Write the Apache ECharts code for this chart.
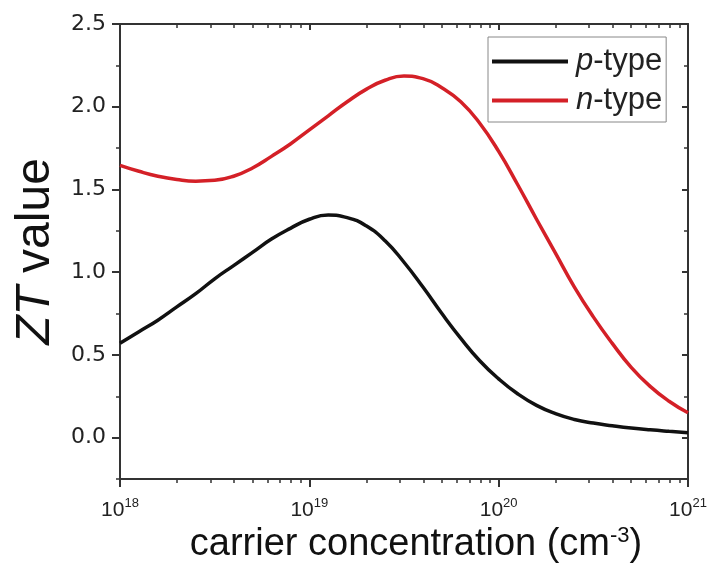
<!DOCTYPE html>
<html><head><meta charset="utf-8">
<script src="https://cdn.jsdelivr.net/npm/echarts@6/dist/echarts.min.js"></script>
<style>html,body{margin:0;padding:0;background:#fff}#c{width:712px;height:572px}</style>
</head><body><div id="c"></div>
<script>
// x values: log10 of carrier concentration (cm^-3)
const logN = [18.0,18.1,18.2,18.3,18.4,18.5,18.6,18.7,18.8,18.9,19.0,19.1,19.2,19.3,19.4,19.5,19.6,19.7,19.8,19.9,20.0,20.1,20.2,20.3,20.4,20.5,20.6,20.7,20.8,20.9,21.0];
const pType = [0.57,0.64,0.71,0.79,0.87,0.96,1.04,1.12,1.20,1.265,1.32,1.345,1.33,1.28,1.19,1.06,0.91,0.75,0.60,0.465,0.355,0.265,0.195,0.145,0.11,0.088,0.072,0.058,0.047,0.038,0.03];
const nType = [1.646,1.61,1.58,1.56,1.55,1.555,1.58,1.63,1.70,1.775,1.86,1.945,2.03,2.105,2.16,2.185,2.17,2.115,2.03,1.90,1.73,1.53,1.32,1.115,0.91,0.73,0.57,0.425,0.31,0.22,0.15];
const seriesNames = ['p-type','n-type'];
const yMajorTicks = [0,0.5,1.0,1.5,2.0,2.5];
const yMinorTicks = [-0.25,0.25,0.75,1.25,1.75,2.25];
const xMinorTicks = [];
[18,19,20].forEach(d => { for (let m = 2; m <= 9; m++) xMinorTicks.push(d + Math.log10(m)); });

const AX = '#333';
const FONT = '"Liberation Sans", Arial, sans-serif';

const chart = echarts.init(document.getElementById('c'), null, {renderer:'canvas'});
const baseX = {type:'value', min:18, max:21, gridIndex:0, splitLine:{show:false}};
const baseY = {type:'value', min:-0.25, max:2.5, gridIndex:0, splitLine:{show:false}};
const option = {
  backgroundColor:'#fff',
  animation:false,
  grid:{left:120, right:24, top:24, bottom:93, containLabel:false},
  legend:{
    orient:'vertical', left:488, top:37,
    padding:[9,4,6,4], itemGap:8,
    borderColor:'#888', borderWidth:1,
    itemWidth:76, itemHeight:4, icon:'rect',
    data:seriesNames,
    formatter: name => '{i|' + name.charAt(0) + '}-type',
    textStyle:{fontSize:31, fontFamily:FONT, color:'#222',
      rich:{i:{fontStyle:'italic', fontSize:31, fontFamily:FONT, color:'#222', padding:[0,0,0,3]}}}
  },
  xAxis:[
    Object.assign({}, baseX, {
      position:'bottom', interval:1,
      axisLine:{show:true, onZero:false, lineStyle:{color:AX, width:2}},
      axisTick:{show:true, inside:false, length:8, lineStyle:{color:AX, width:2}},
      axisLabel:{show:true, margin:18, color:'#222', fontFamily:FONT, fontSize:21,
        formatter: v => '{b|10}{s|' + v + '}',
        rich:{b:{fontSize:21, fontFamily:FONT, color:'#222', lineHeight:26},
              s:{fontSize:13, fontFamily:FONT, color:'#222', verticalAlign:'top', lineHeight:14}}},
      name:'carrier concentration (cm{sup|-3})', nameLocation:'middle', nameGap:46,
      nameTextStyle:{fontSize:38, fontFamily:FONT, color:'#111', padding:[0,0,0,24],
        rich:{sup:{fontSize:22, fontFamily:FONT, color:'#111', verticalAlign:'top', lineHeight:22}}}
    }),
    Object.assign({}, baseX, {
      position:'bottom',
      axisLine:{show:false, onZero:false},
      axisTick:{show:true, inside:false, length:4, customValues:xMinorTicks, lineStyle:{color:AX, width:1.5}},
      axisLabel:{show:false}
    }),
    Object.assign({}, baseX, {
      position:'top', interval:1,
      axisLine:{show:true, onZero:false, lineStyle:{color:AX, width:2}},
      axisTick:{show:true, inside:true, length:6, lineStyle:{color:AX, width:2}},
      axisLabel:{show:false}
    }),
    Object.assign({}, baseX, {
      position:'top',
      axisLine:{show:false, onZero:false},
      axisTick:{show:true, inside:true, length:4, customValues:xMinorTicks, lineStyle:{color:AX, width:1.5}},
      axisLabel:{show:false}
    })
  ],
  yAxis:[
    Object.assign({}, baseY, {
      position:'left',
      axisLine:{show:true, onZero:false, lineStyle:{color:AX, width:2}},
      axisTick:{show:true, inside:false, length:8, customValues:yMajorTicks, lineStyle:{color:AX, width:2}},
      axisLabel:{show:true, margin:14, customValues:yMajorTicks, color:'#222', fontSize:22,
        fontFamily:'"DejaVu Sans", sans-serif', formatter: v => v.toFixed(1)},
      name:'{i|ZT} value', nameLocation:'middle', nameGap:56,
      nameTextStyle:{fontSize:48, fontFamily:FONT, color:'#111',
        rich:{i:{fontStyle:'italic', fontSize:48, fontFamily:FONT, color:'#111'}}}
    }),
    Object.assign({}, baseY, {
      position:'left',
      axisLine:{show:false, onZero:false},
      axisTick:{show:true, inside:false, length:4, customValues:yMinorTicks, lineStyle:{color:AX, width:1.5}},
      axisLabel:{show:false}
    }),
    Object.assign({}, baseY, {
      position:'right',
      axisLine:{show:true, onZero:false, lineStyle:{color:AX, width:2}},
      axisTick:{show:true, inside:true, length:6, customValues:yMajorTicks, lineStyle:{color:AX, width:2}},
      axisLabel:{show:false}
    }),
    Object.assign({}, baseY, {
      position:'right',
      axisLine:{show:false, onZero:false},
      axisTick:{show:true, inside:true, length:4, customValues:yMinorTicks, lineStyle:{color:AX, width:1.5}},
      axisLabel:{show:false}
    })
  ],
  series:[
    {name:seriesNames[0], type:'line', xAxisIndex:0, yAxisIndex:0, smooth:0.5, showSymbol:false,
     data: logN.map((x,i) => [x, pType[i]]), color:'#111', lineStyle:{width:3.5, color:'#111'}},
    {name:seriesNames[1], type:'line', xAxisIndex:0, yAxisIndex:0, smooth:0.5, showSymbol:false,
     data: logN.map((x,i) => [x, nType[i]]), color:'#d42027', lineStyle:{width:3.5, color:'#d42027'}}
  ]
};
chart.setOption(option);
</script></body></html>
